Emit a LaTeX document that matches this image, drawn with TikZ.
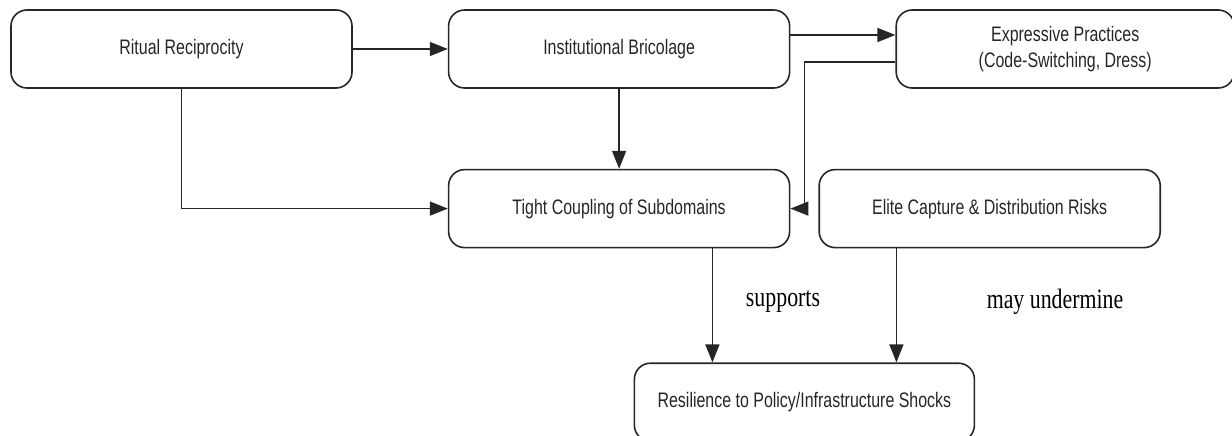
\documentclass[tikz,border=0pt]{standalone}
\usepackage{fontspec}
\newfontfamily\boxfont[FakeStretch=0.76]{Liberation Sans}
\newfontfamily\notefont[FakeStretch=0.78]{Liberation Serif}
\usetikzlibrary{positioning,arrows.meta}

\begin{document}
\begin{tikzpicture}[
  box/.style={rectangle, rounded corners=16pt, draw=black!85, line width=1.6pt,
    minimum width=341pt, minimum height=78pt, align=center,
    font=\boxfont\fontsize{21pt}{26pt}\selectfont, text=black!85},
  arr/.style={-{Triangle[length=18pt, width=14pt]}, line width=1.5pt, draw=black!85},
  note/.style={font=\notefont\fontsize{28pt}{32pt}\selectfont}
]
  \useasboundingbox (0,0) rectangle (1232pt,-436pt);

  \node[box] (RR) at (181.5pt,-49pt) {Ritual Reciprocity};
  \node[box, right=95pt of RR] (IB) {Institutional Bricolage};
  \node[box, right=105pt of IB, minimum width=338pt] (EP) {Expressive Practices\\(Code-Switching, Dress)};
  \node[box, below=80pt of IB] (TC) {Tight Coupling of Subdomains};
  \node[box, right=28pt of TC] (EC) {Elite Capture \& Distribution Risks};
  \node[box, below=114pt of TC.south east, xshift=14pt, minimum width=340pt] (RS) {Resilience to Policy/Infrastructure Shocks};

  \draw[arr] (RR) -- (IB);
  \draw[arr] ([yshift=14pt]IB.east) -- ([yshift=14pt]EP.west);
  \draw[arr] (RR.south) |- (TC.west);
  \draw[arr] (IB) -- (TC);
  \draw[arr] ([yshift=-13pt]EP.west) -| ([xshift=14pt]TC.east) -- (TC.east);
  \draw[arr] ([xshift=-92pt]RS.north |- TC.south) -- ([xshift=-92pt]RS.north);
  \draw[arr] ([xshift=92pt]RS.north |- EC.south) -- ([xshift=92pt]RS.north);

  \node[note] (sup) at (783pt,-302pt) {supports};
  \node[note] (und) at (1055pt,-302pt) {may undermine};
\end{tikzpicture}
\end{document}
